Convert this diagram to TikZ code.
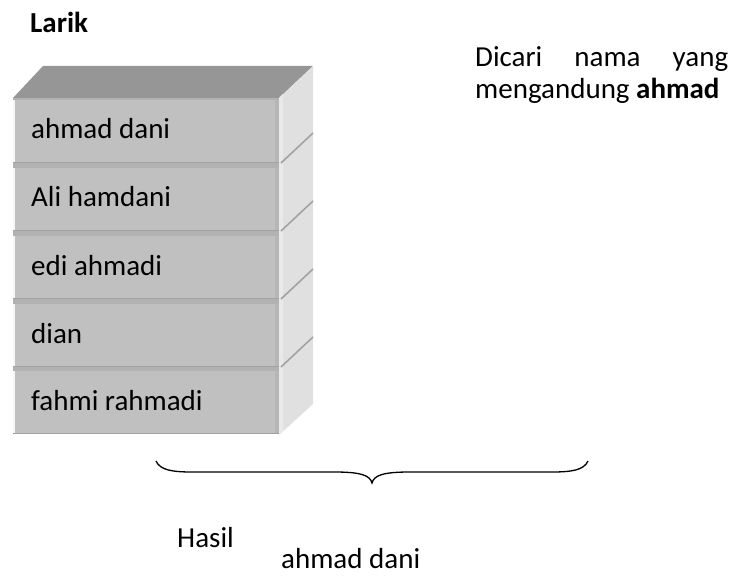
\documentclass[tikz,border=0pt]{standalone}
\usepackage{fontspec}
\setmainfont{Carlito}
\definecolor{slabfront}{HTML}{C0C0C0}
\definecolor{slabtop}{HTML}{969696}
\definecolor{slabside}{HTML}{E0E0E0}
\definecolor{slabsidelight}{HTML}{E9E9E9}
\definecolor{slabedge}{HTML}{A2A2A2}
\definecolor{slabgap}{HTML}{B2B2B2}
\definecolor{slabrim}{HTML}{B6B6B6}
\begin{document}
\begin{tikzpicture}[x=1pt,y=-1pt,
  txt/.style={inner sep=0pt, anchor=base west, font=\fontsize{29}{35}\selectfont},
  slabface/.style={fill=slabfront},
  seam/.style={draw=slabedge, line width=1.6pt},
  bracestroke/.style={draw=black, line width=1.3pt}]
\useasboundingbox (0,0) rectangle (735,577);

% stack: top face and right side face
\fill[slabtop] (13,98) -- (43,66) -- (313,66) -- (279,98) -- cycle;
\fill[slabside] (279,98) -- (313,66) -- (313,404) -- (279,435) -- cycle;
\fill[slabsidelight] (279,98) -- (283,94) -- (283,431) -- (279,435) -- cycle;
% front column background shows through the gaps between slabs
\fill[slabgap] (13,98) rectangle (279,434);

% the five slabs of the array
\foreach \t/\name/\lbl in {98/s1/ahmad dani, 166/s2/Ali hamdani, 234/s3/edi ahmadi, 302/s4/dian, 369/s5/fahmi rahmadi}{
  \fill[slabface] (13,\t+2) rectangle (279,\t+65);
  \fill[slabrim] (275,\t+2) rectangle (279,\t+65);
  \fill[white!85!slabfront] (13,\t+2) rectangle (14.5,\t+65);
  \draw[seam] (13,\t+64.5) -- (279,\t+64.5);
  \node[txt] (\name) at (31,\t+41) {\lbl};
}
% seams on the side face between slabs
\foreach \b in {163,231,299,367}{
  \draw[seam] (281,\b) -- (313,\b-30);
}

% titles and notes
\node[txt, font=\fontsize{29}{35}\selectfont\bfseries] (larik) at (30,33) {Larik};
\node[txt] (note1) at (475,67) {\hbox to 253pt{Dicari\hfill nama\hfill yang}};
\node[txt] (note2) at (475,99) {mengandung \textbf{ahmad}};

% brace collecting the stack into the result
\coordinate (bl) at (156,461);
\coordinate (bt) at (372,483);
\coordinate (br) at (588,461);
\draw[bracestroke] (bl) .. controls (160,470) and (172,472) .. (192,472)
  -- (334,472) .. controls (360,472) and (370,475) .. (bt)
  .. controls (374,475) and (384,472) .. (410,472)
  -- (552,472) .. controls (572,472) and (584,470) .. (br);

\node[txt] (hasil) at (177,547) {Hasil};
\node[txt] (result) at (281,568) {ahmad dani};
\end{tikzpicture}
\end{document}
